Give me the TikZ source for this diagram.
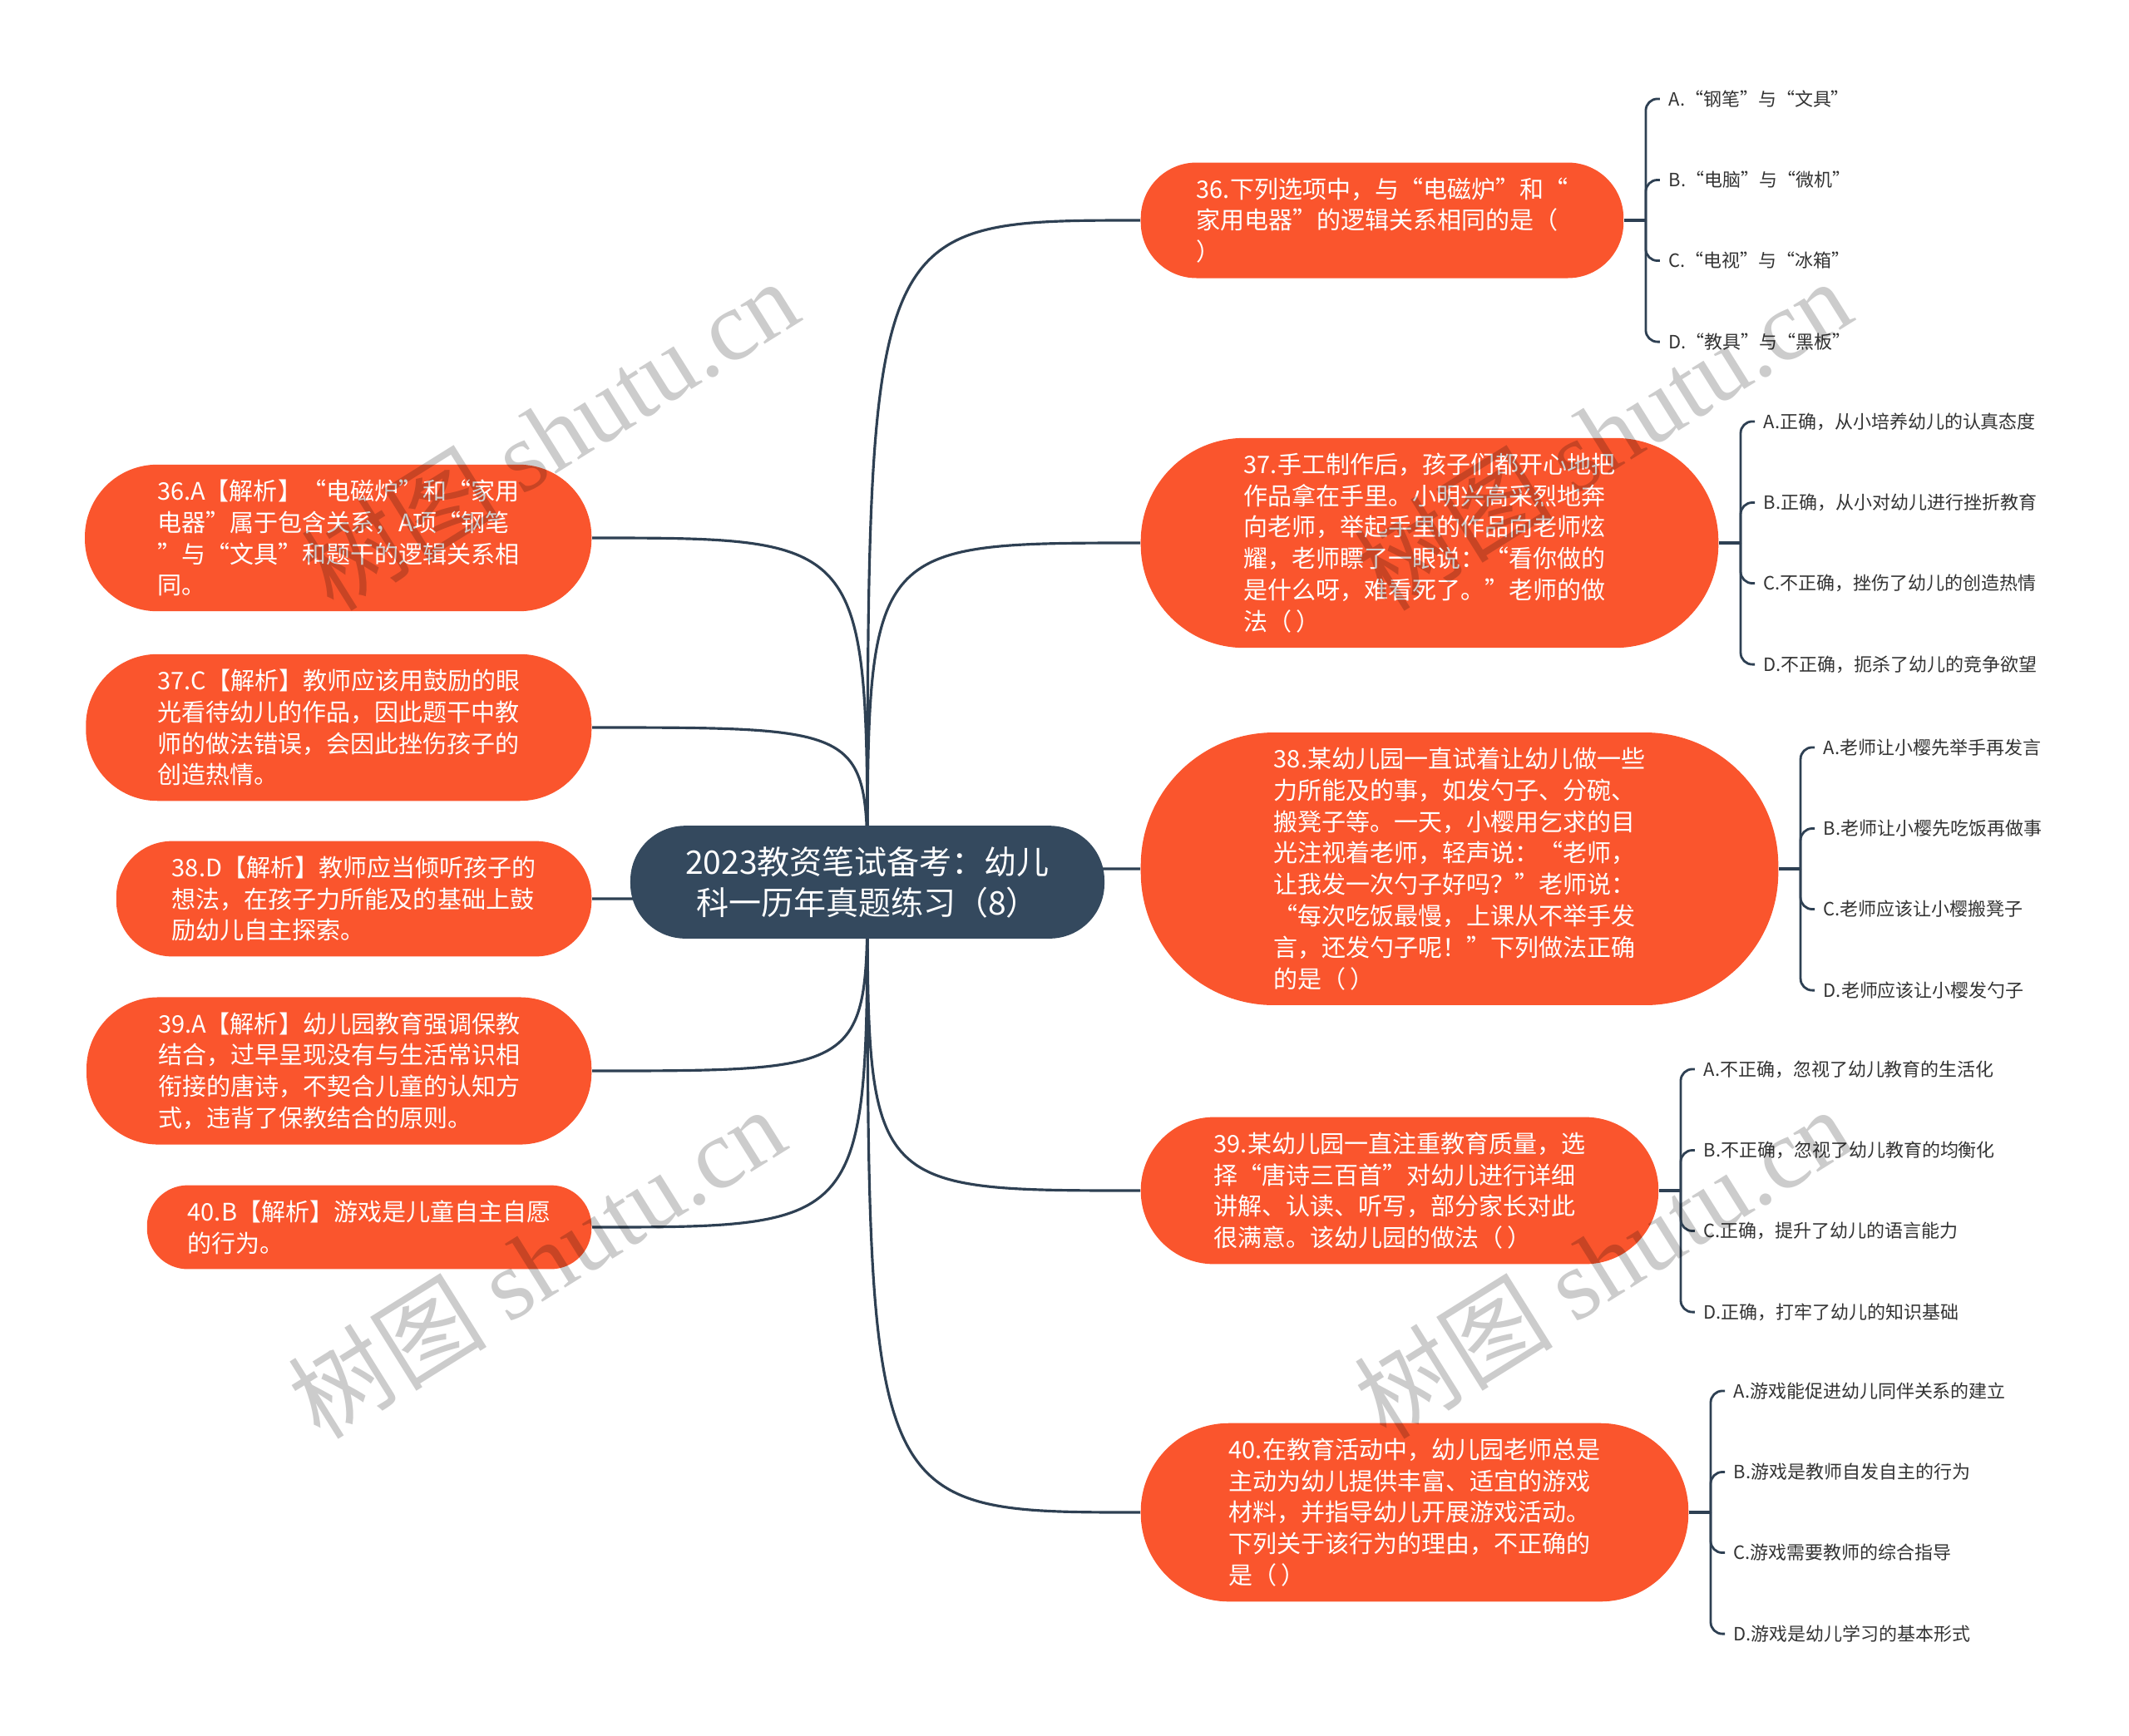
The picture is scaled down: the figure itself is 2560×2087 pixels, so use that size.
\documentclass[tikz,border=0pt]{standalone}
\usepackage{fontspec}
\setmainfont{Noto Sans CJK SC}
\newfontfamily\wmlatin{Liberation Serif}
\usetikzlibrary{backgrounds}

\definecolor{topicorange}{HTML}{FA552D}
\definecolor{rootslate}{HTML}{34495E}
\definecolor{linkslate}{HTML}{2E4053}
\definecolor{leafgray}{HTML}{333333}

\newcommand{\rootfont}{\fontsize{11.1}{13.9}\selectfont}
\newcommand{\topicfont}{\fontsize{8.25}{10.75}\selectfont}
\newcommand{\leaffont}{\fontsize{6.25}{7.5}\selectfont}
\newcommand{\wmtext}{树图 {\wmlatin shutu.cn}}
\newcommand{\blank}{（\,）}

\begin{document}
\begin{tikzpicture}[x=0.01cm, y=-0.01cm,
    root/.style={rectangle, rounded corners=0.66cm, fill=rootslate, text=white, font=\rootfont, align=center, inner xsep=0.66cm, inner ysep=0.25cm},
    topic/.style={rectangle, rounded corners=#1, fill=topicorange, text=white, font=\topicfont, align=left, inner xsep=#1, inner ysep=0.18cm},
    leaf/.style={anchor=west, text=leafgray, font=\leaffont, inner xsep=0.1cm, inner ysep=0.05cm},
    link/.style={draw=linkslate, line width=0.9pt},
    brace/.style={draw=linkslate, line width=0.8pt, rounded corners=0.14cm},
    watermark/.style={rotate=32, text=black, text opacity=0.2, font=\fontsize{34}{40}\selectfont}]

    \useasboundingbox (0,0) rectangle (2560,2087);

    % centre
    \coordinate (hub) at (1043,1061);
    \node[root] (root) at (hub) {2023教资笔试备考：幼儿\\科一历年真题练习（8）};

    % questions, right
    \node[topic=0.67cm, anchor=west] (q36) at (1371,265) {36.下列选项中，与“电磁炉”和“\\家用电器”的逻辑关系相同的是（\\）};
    \node[topic=1.24cm, anchor=west] (q37) at (1371,653) {37.手工制作后，孩子们都开心地把\\作品拿在手里。小明兴高采烈地奔\\向老师，举起手里的作品向老师炫\\耀，老师瞟了一眼说：“看你做的\\是什么呀，难看死了。”老师的做\\法\blank};
    \node[topic=1.6cm, anchor=west] (q38) at (1371,1045) {38.某幼儿园一直试着让幼儿做一些\\力所能及的事，如发勺子、分碗、\\搬凳子等。一天，小樱用乞求的目\\光注视着老师，轻声说：“老师，\\让我发一次勺子好吗？”老师说：\\“每次吃饭最慢，上课从不举手发\\言，还发勺子呢！”下列做法正确\\的是\blank};
    \node[topic=0.88cm, anchor=west] (q39) at (1371,1432) {39.某幼儿园一直注重教育质量，选\\择“唐诗三百首”对幼儿进行详细\\讲解、认读、听写，部分家长对此\\很满意。该幼儿园的做法\blank};
    \node[topic=1.06cm, anchor=west] (q40) at (1371,1819) {40.在教育活动中，幼儿园老师总是\\主动为幼儿提供丰富、适宜的游戏\\材料，并指导幼儿开展游戏活动。\\下列关于该行为的理由，不正确的\\是\blank};

    % answers, left
    \node[topic=0.87cm, anchor=east] (a36) at (712,647) {36.A【解析】“电磁炉”和“家用\\电器”属于包含关系，A项“钢笔\\”与“文具”和题干的逻辑关系相\\同。};
    \node[topic=0.86cm, anchor=east] (a37) at (712,875) {37.C【解析】教师应该用鼓励的眼\\光看待幼儿的作品，因此题干中教\\师的做法错误，会因此挫伤孩子的\\创造热情。};
    \node[topic=0.67cm, anchor=east] (a38) at (712,1081) {38.D【解析】教师应当倾听孩子的\\想法，在孩子力所能及的基础上鼓\\励幼儿自主探索。};
    \node[topic=0.86cm, anchor=east] (a39) at (712,1288) {39.A【解析】幼儿园教育强调保教\\结合，过早呈现没有与生活常识相\\衔接的唐诗，不契合儿童的认知方\\式，违背了保教结合的原则。};
    \node[topic=0.49cm, anchor=east] (a40) at (712,1476) {40.B【解析】游戏是儿童自主自愿\\的行为。};

    % options
    \node[leaf] (o36a) at ([xshift=0.43cm, yshift=1.46cm]q36.east) {A.“钢笔”与“文具”};
    \node[leaf] (o36b) at ([xshift=0.43cm, yshift=0.485cm]q36.east) {B.“电脑”与“微机”};
    \node[leaf] (o36c) at ([xshift=0.43cm, yshift=-0.485cm]q36.east) {C.“电视”与“冰箱”};
    \node[leaf] (o36d) at ([xshift=0.43cm, yshift=-1.46cm]q36.east) {D.“教具”与“黑板”};

    \node[leaf] (o37a) at ([xshift=0.43cm, yshift=1.46cm]q37.east) {A.正确，从小培养幼儿的认真态度};
    \node[leaf] (o37b) at ([xshift=0.43cm, yshift=0.485cm]q37.east) {B.正确，从小对幼儿进行挫折教育};
    \node[leaf] (o37c) at ([xshift=0.43cm, yshift=-0.485cm]q37.east) {C.不正确，挫伤了幼儿的创造热情};
    \node[leaf] (o37d) at ([xshift=0.43cm, yshift=-1.46cm]q37.east) {D.不正确，扼杀了幼儿的竞争欲望};

    \node[leaf] (o38a) at ([xshift=0.43cm, yshift=1.46cm]q38.east) {A.老师让小樱先举手再发言};
    \node[leaf] (o38b) at ([xshift=0.43cm, yshift=0.485cm]q38.east) {B.老师让小樱先吃饭再做事};
    \node[leaf] (o38c) at ([xshift=0.43cm, yshift=-0.485cm]q38.east) {C.老师应该让小樱搬凳子};
    \node[leaf] (o38d) at ([xshift=0.43cm, yshift=-1.46cm]q38.east) {D.老师应该让小樱发勺子};

    \node[leaf] (o39a) at ([xshift=0.43cm, yshift=1.46cm]q39.east) {A.不正确，忽视了幼儿教育的生活化};
    \node[leaf] (o39b) at ([xshift=0.43cm, yshift=0.485cm]q39.east) {B.不正确，忽视了幼儿教育的均衡化};
    \node[leaf] (o39c) at ([xshift=0.43cm, yshift=-0.485cm]q39.east) {C.正确，提升了幼儿的语言能力};
    \node[leaf] (o39d) at ([xshift=0.43cm, yshift=-1.46cm]q39.east) {D.正确，打牢了幼儿的知识基础};

    \node[leaf] (o40a) at ([xshift=0.43cm, yshift=1.46cm]q40.east) {A.游戏能促进幼儿同伴关系的建立};
    \node[leaf] (o40b) at ([xshift=0.43cm, yshift=0.485cm]q40.east) {B.游戏是教师自发自主的行为};
    \node[leaf] (o40c) at ([xshift=0.43cm, yshift=-0.485cm]q40.east) {C.游戏需要教师的综合指导};
    \node[leaf] (o40d) at ([xshift=0.43cm, yshift=-1.46cm]q40.east) {D.游戏是幼儿学习的基本形式};

    % links from the centre
    \begin{scope}[on background layer]
        \foreach \q in {36,...,40} {
            \draw[link] (hub) .. controls (hub |- q\q.west) .. (q\q.west);
            \draw[link] (hub) .. controls (hub |- a\q.east) .. (a\q.east);
        }
    \end{scope}

    % brackets to the options
    \foreach \q in {36,...,40} {
        \draw[link] (q\q.east) -- ++(0.26cm,0) coordinate (s\q);
        \foreach \o in {a,b,c,d}
            \draw[brace] (s\q) |- (o\q\o.west);
    }

    % watermark
    \node[watermark] (wm1) at (661,522) {\wmtext};
    \node[watermark] (wm2) at (645,1518) {\wmtext};
    \node[watermark] (wm3) at (1927,522) {\wmtext};
    \node[watermark] (wm4) at (1927,1518) {\wmtext};
\end{tikzpicture}
\end{document}
